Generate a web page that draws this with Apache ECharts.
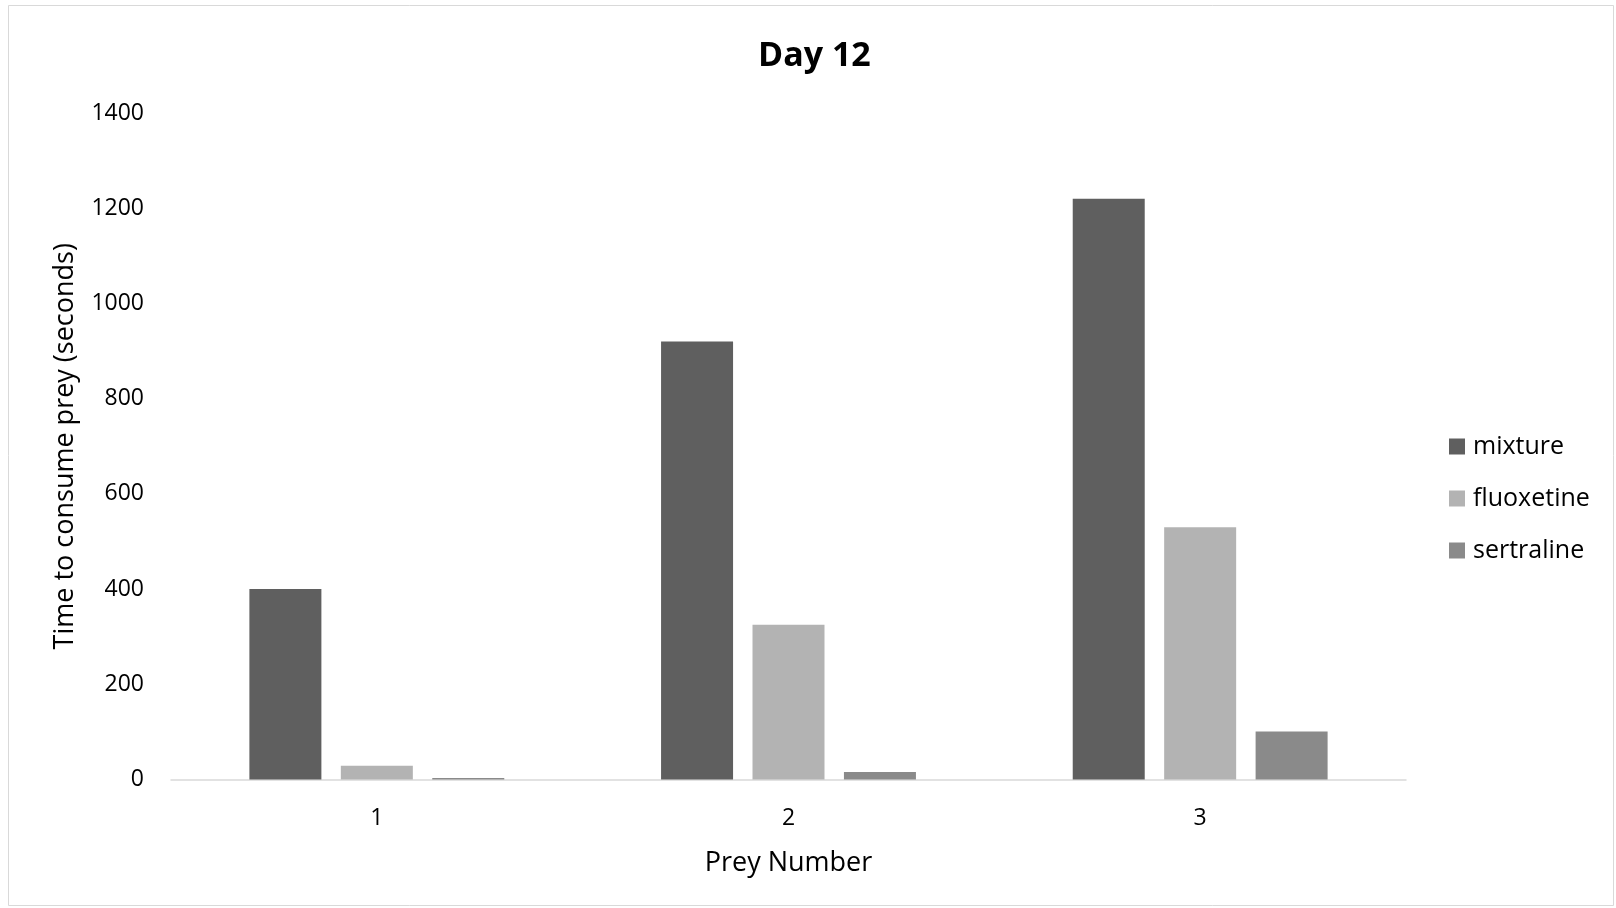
<!DOCTYPE html>
<html>
<head>
<meta charset="utf-8">
<script src="https://cdn.jsdelivr.net/npm/echarts@6/dist/echarts.min.js"></script>
<style>
html,body{margin:0;padding:0;background:#fff;}
#chart{width:1616px;height:908px;}
</style>
</head>
<body>
<div id="chart"></div>
<script>
const categories = ['1', '2', '3'];
const seriesNames = ['mixture', 'fluoxetine', 'sertraline'];
const mixture = [400, 920, 1220];
const fluoxetine = [29, 325, 530];
const sertraline = [3, 16, 101];
const colors = ['#5f5f5f', '#b3b3b3', '#8a8a8a'];

const FONT = '"Open Sans", "Noto Sans", sans-serif';
const chart = echarts.init(document.getElementById('chart'), null, {renderer: 'canvas'});

const values = [mixture, fluoxetine, sertraline];
chart.setOption({
  backgroundColor: '#ffffff',
  animation: false,
  title: {
    text: 'Day 12',
    left: 753,
    top: 34,
    textStyle: {fontFamily: FONT, fontSize: 34, fontWeight: 'bold', color: '#000'}
  },
  graphic: [{
    type: 'rect',
    shape: {x: 8.5, y: 5.5, width: 1605, height: 900},
    style: {fill: 'none', stroke: '#d9d9d9', lineWidth: 1},
    silent: true
  }],
  legend: {
    orient: 'vertical',
    left: 1444,
    top: 429,
    itemWidth: 16,
    itemHeight: 16,
    itemGap: 27,
    icon: 'rect',
    data: seriesNames,
    textStyle: {fontFamily: FONT, fontSize: 25, color: '#000', lineHeight: 25, padding: [0, 0, 0, 3]}
  },
  grid: {left: 171, right: 210, top: 113, bottom: 128.5, containLabel: false},
  xAxis: {
    type: 'category',
    data: categories,
    name: 'Prey Number',
    nameLocation: 'middle',
    nameGap: 70,
    nameTextStyle: {fontFamily: FONT, fontSize: 27, color: '#000'},
    axisLine: {show: true, lineStyle: {color: '#d9d9d9', width: 1.5}},
    axisTick: {show: false},
    axisLabel: {fontFamily: FONT, fontSize: 23, color: '#000', margin: 27},
    splitLine: {show: false}
  },
  yAxis: {
    type: 'value',
    min: 0,
    max: 1400,
    interval: 200,
    name: 'Time to consume prey (seconds)',
    nameLocation: 'middle',
    nameGap: 92,
    nameTextStyle: {fontFamily: FONT, fontSize: 27, color: '#000'},
    axisLine: {show: false},
    axisTick: {show: false},
    axisLabel: {fontFamily: FONT, fontSize: 23, color: '#000', margin: 27, formatter: v => String(v)},
    splitLine: {show: false}
  },
  series: seriesNames.map((n, i) => ({
    name: n,
    type: 'bar',
    data: values[i],
    barWidth: 72,
    barGap: '27%',
    itemStyle: {color: colors[i]}
  }))
});
</script>
</body>
</html>
